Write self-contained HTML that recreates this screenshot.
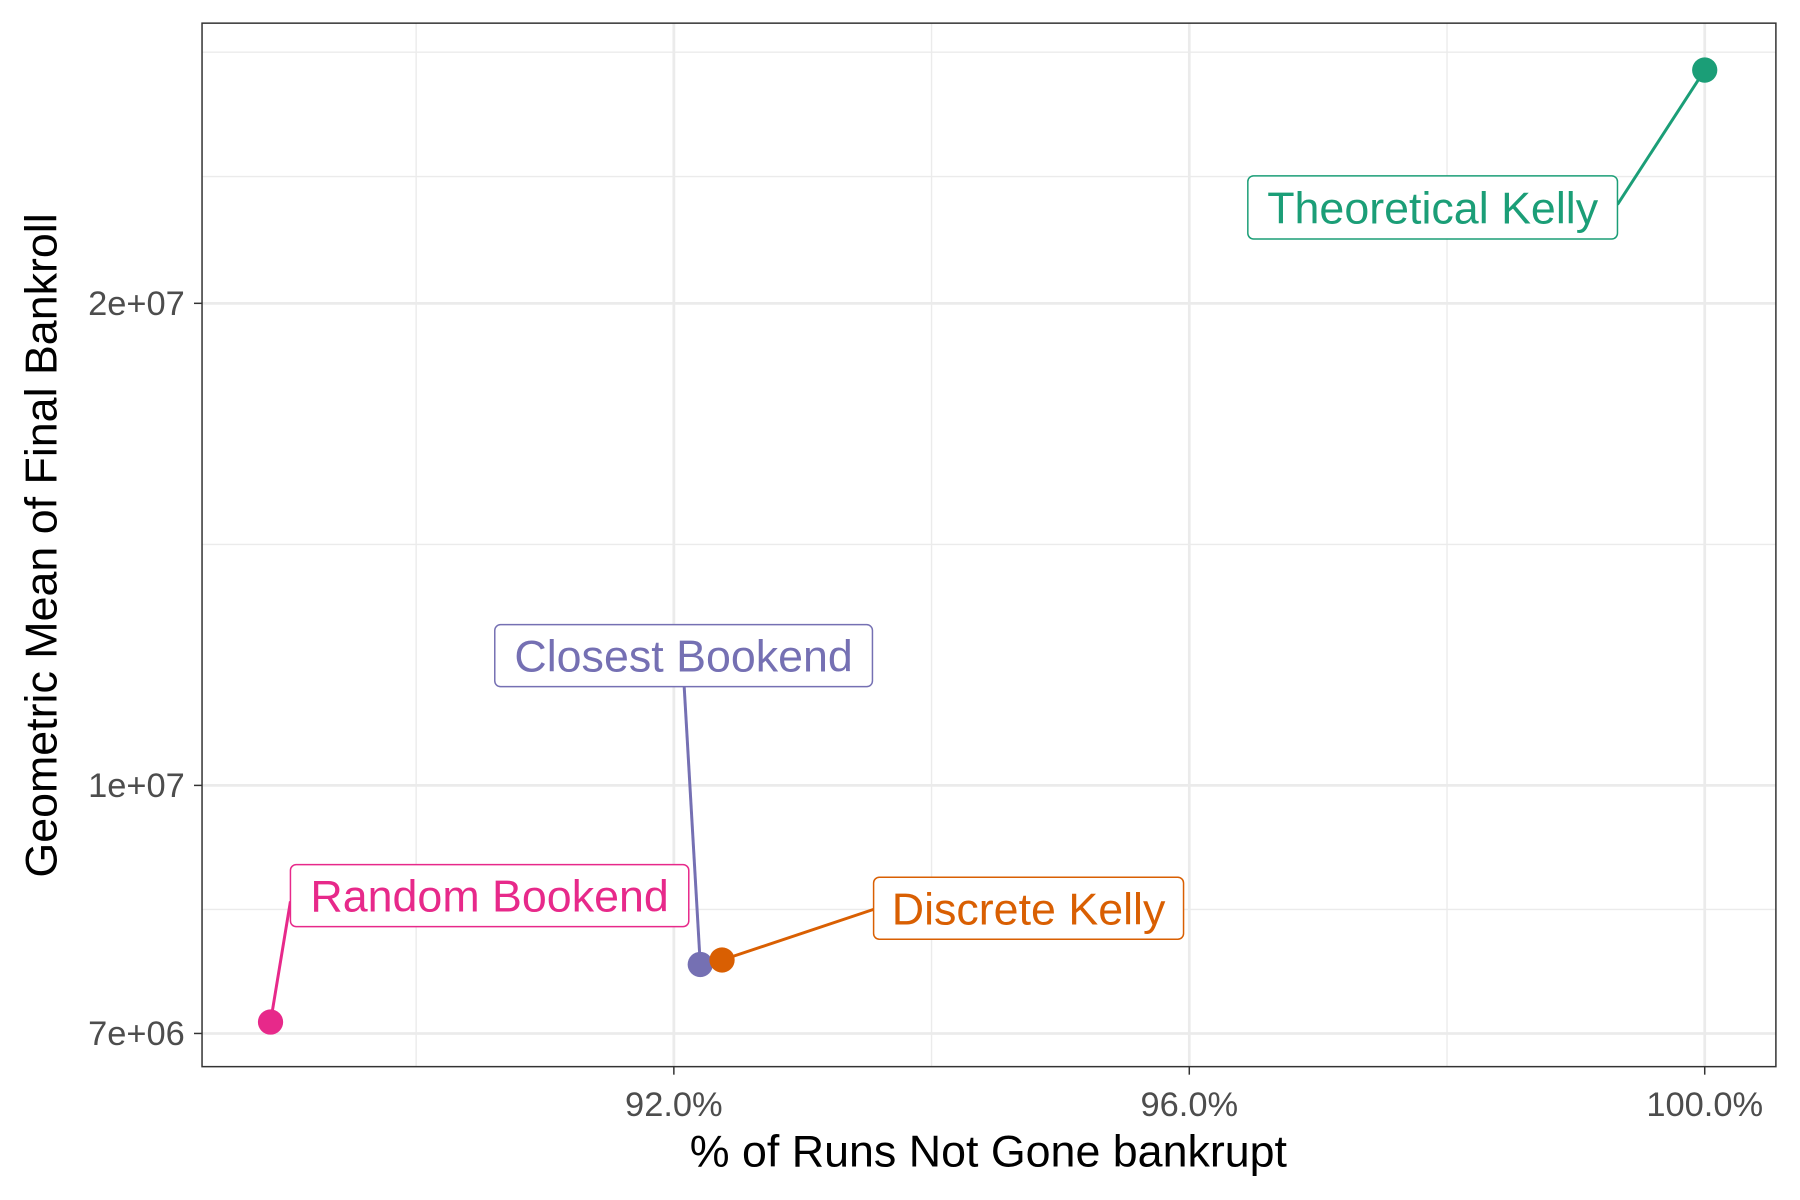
<!DOCTYPE html>
<html><head><meta charset="utf-8"><style>
html,body{margin:0;padding:0;background:#fff;}
svg{display:block;font-family:"Liberation Sans",Arial,sans-serif;}
</style></head><body>
<svg id="chart" width="1800" height="1200" viewBox="0 0 1568 1045" xmlns="http://www.w3.org/2000/svg">
<rect x="0" y="0" width="1568" height="1045" fill="#fff"/>
<g id="grid"></g>
<rect x="176" y="20" width="1371" height="909" fill="none" stroke="#333" stroke-width="1.3"/>
<g id="axes"></g>
<g id="marks"></g>
<text x="861" y="1016" font-size="39" text-anchor="middle" fill="#000">% of Runs Not Gone bankrupt</text>
<text transform="translate(49,475) rotate(-90)" font-size="39" text-anchor="middle" fill="#000">Geometric Mean of Final Bankroll</text>
</svg>
<script>
const categories = ["Theoretical Kelly","Closest Bookend","Random Bookend","Discrete Kelly"];
const xValues = [100.0, 92.205, 88.87, 92.374];
const yValues = [2.797e7, 7.73e6, 7.116e6, 7.78e6];
const colors = ["#1B9E77","#7570B3","#E7298A","#D95F02"];
const xTicks = [92, 96, 100];
const xTickLabels = ["92.0%","96.0%","100.0%"];
const xMinor = [90, 94, 98];
const yTicks = [7e6, 1e7, 2e7];
const yTickLabels = ["7e+06","1e+07","2e+07"];
const yMinor = [8.367e6, 1.414e7, 2.4e7, 2.87e7];
// label box positions (layout, in px) : [x, y, w, h, anchorX, anchorY]
const labelBoxes = [[1087,153,322,55,1409,178],[431,544,329,54,596,598],[253,753,347,54,253,785],[761,764,270,54,761,792]];

const NS="http://www.w3.org/2000/svg";
function xs(v){return 587+(v-92)*112.25;}
function ys(v){return 684-Math.log10(v/1e7)*1395;}
function mk(tag,attrs,parent){const e=document.createElementNS(NS,tag);for(const k in attrs)e.setAttribute(k,attrs[k]);parent.appendChild(e);return e;}
const grid=document.getElementById('grid'),axes=document.getElementById('axes'),marks=document.getElementById('marks');
xMinor.forEach(v=>{const l=mk('line',{x1:xs(v),x2:xs(v),y1:20,y2:929,stroke:'#ebebeb','stroke-width':1.2},grid);

});
yMinor.forEach(v=>{const l=mk('line',{x1:176,x2:1547,y1:ys(v),y2:ys(v),stroke:'#ebebeb','stroke-width':1.2},grid);

});
xTicks.forEach((v,i)=>{const l=mk('line',{x1:xs(v),x2:xs(v),y1:20,y2:929,stroke:'#ebebeb','stroke-width':2.4},grid);


const t=mk('line',{x1:xs(v),x2:xs(v),y1:929,y2:936,stroke:'#333','stroke-width':1.3},axes);


const tx=mk('text',{x:xs(v),y:972,'font-size':30,'text-anchor':'middle',fill:'#4d4d4d'},axes);tx.textContent=xTickLabels[i];

});
yTicks.forEach((v,i)=>{const l=mk('line',{x1:176,x2:1547,y1:ys(v),y2:ys(v),stroke:'#ebebeb','stroke-width':2.4},grid);


const t=mk('line',{x1:169,x2:176,y1:ys(v),y2:ys(v),stroke:'#333','stroke-width':1.3},axes);


const tx=mk('text',{x:161,y:ys(v)+10,'font-size':30,'text-anchor':'end',fill:'#4d4d4d'},axes);tx.textContent=yTickLabels[i];

});
categories.forEach((c,i)=>{const px=xs(xValues[i]),py=ys(yValues[i]);const b=labelBoxes[i];
const seg=mk('line',{x1:b[4],y1:b[5],x2:px,y2:py,stroke:colors[i],'stroke-width':2.6},marks);


const pt=mk('circle',{cx:px,cy:py,r:11,fill:colors[i]},marks);


const r=mk('rect',{x:b[0],y:b[1],width:b[2],height:b[3],rx:5,fill:'#fff',stroke:colors[i],'stroke-width':1.3},marks);


const t=mk('text',{x:b[0]+b[2]/2,y:b[1]+b[3]/2+14,'font-size':39,'text-anchor':'middle',fill:colors[i]},marks);t.textContent=c;

});
</script>
</body></html>
